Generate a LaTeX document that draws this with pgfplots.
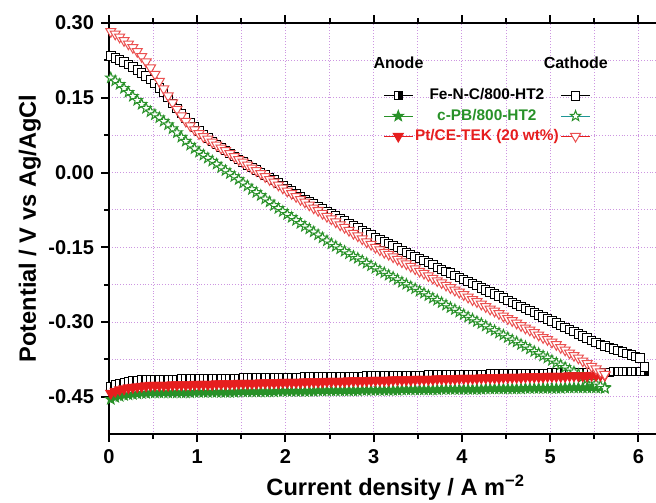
\documentclass[border=0pt]{standalone}
\usepackage{pgfplots}
\usepackage{pgfplotstable}
\usepackage{fontspec}
\setmainfont{Liberation Sans}
\pgfplotsset{compat=1.18}
\usetikzlibrary{plotmarks}

\definecolor{gridc}{RGB}{205,150,225}
\definecolor{pbgreen}{RGB}{40,145,40}
\definecolor{pbteal}{RGB}{30,150,150}
\definecolor{ptred}{RGB}{230,30,30}
\definecolor{ptlight}{RGB}{235,80,80}

% five-pointed star mark
\pgfdeclareplotmark{pstar}{%
  \pgfpathmoveto{\pgfpointpolar{90}{1.1\pgfplotmarksize}}%
  \pgfpathlineto{\pgfpointpolar{126}{0.45\pgfplotmarksize}}%
  \pgfpathlineto{\pgfpointpolar{162}{1.1\pgfplotmarksize}}%
  \pgfpathlineto{\pgfpointpolar{198}{0.45\pgfplotmarksize}}%
  \pgfpathlineto{\pgfpointpolar{234}{1.1\pgfplotmarksize}}%
  \pgfpathlineto{\pgfpointpolar{270}{0.45\pgfplotmarksize}}%
  \pgfpathlineto{\pgfpointpolar{306}{1.1\pgfplotmarksize}}%
  \pgfpathlineto{\pgfpointpolar{342}{0.45\pgfplotmarksize}}%
  \pgfpathlineto{\pgfpointpolar{18}{1.1\pgfplotmarksize}}%
  \pgfpathlineto{\pgfpointpolar{54}{0.45\pgfplotmarksize}}%
  \pgfpathclose
  \pgfusepathqfillstroke}
% square, right half filled black
\pgfdeclareplotmark{hsq}{%
  \pgfpathrectangle{\pgfpoint{-\pgfplotmarksize}{-\pgfplotmarksize}}{\pgfpoint{2\pgfplotmarksize}{2\pgfplotmarksize}}%
  \pgfusepathqfillstroke
  \begin{pgfscope}
  \pgfsetfillcolor{black}%
  \pgfpathrectangle{\pgfpoint{0pt}{-\pgfplotmarksize}}{\pgfpoint{\pgfplotmarksize}{2\pgfplotmarksize}}%
  \pgfusepathqfillstroke
  \end{pgfscope}}

% polarisation curves: anode (A) and cathode (C)
\pgfplotstableread{
x    feA    feC    pbA    pbC    ptA    ptC
0.02 -0.430 0.234 -0.455 0.190 -0.443 0.283
0.07 -0.426 0.230 -0.451 0.184 -0.439 0.278
0.12 -0.423 0.226 -0.449 0.177 -0.436 0.272
0.17 -0.421 0.222 -0.447 0.169 -0.434 0.265
0.22 -0.419 0.217 -0.446 0.161 -0.432 0.258
0.27 -0.418 0.212 -0.445 0.153 -0.431 0.251
0.32 -0.417 0.206 -0.444 0.145 -0.430 0.243
0.37 -0.416 0.200 -0.443 0.137 -0.429 0.233
0.42 -0.416 0.194 -0.443 0.129 -0.428 0.222
0.47 -0.415 0.187 -0.442 0.122 -0.427 0.210
0.52 -0.415 0.179 -0.442 0.116 -0.427 0.197
0.57 -0.415 0.170 -0.442 0.110 -0.427 0.183
0.62 -0.415 0.160 -0.442 0.103 -0.427 0.168
0.67 -0.415 0.150 -0.442 0.096 -0.427 0.154
0.72 -0.415 0.139 -0.442 0.088 -0.426 0.140
0.77 -0.415 0.128 -0.442 0.080 -0.426 0.127
0.82 -0.414 0.118 -0.442 0.071 -0.426 0.114
0.87 -0.414 0.109 -0.442 0.063 -0.426 0.103
0.92 -0.414 0.100 -0.442 0.055 -0.426 0.094
0.97 -0.414 0.091 -0.441 0.048 -0.425 0.086
1.02 -0.414 0.083 -0.441 0.041 -0.425 0.078
1.07 -0.414 0.076 -0.441 0.035 -0.425 0.072
1.12 -0.414 0.069 -0.441 0.029 -0.425 0.067
1.17 -0.413 0.062 -0.441 0.023 -0.425 0.061
1.22 -0.413 0.056 -0.441 0.017 -0.424 0.055
1.27 -0.413 0.050 -0.441 0.010 -0.424 0.049
1.32 -0.413 0.044 -0.441 0.004 -0.424 0.044
1.37 -0.413 0.038 -0.441 -0.002 -0.424 0.038
1.42 -0.413 0.032 -0.441 -0.008 -0.424 0.032
1.47 -0.413 0.026 -0.440 -0.014 -0.423 0.026
1.52 -0.412 0.021 -0.440 -0.021 -0.423 0.021
1.57 -0.412 0.015 -0.440 -0.027 -0.423 0.015
1.62 -0.412 0.010 -0.440 -0.034 -0.423 0.009
1.67 -0.412 0.005 -0.440 -0.040 -0.423 0.004
1.72 -0.412 0.000 -0.440 -0.046 -0.422 -0.002
1.77 -0.412 -0.005 -0.440 -0.053 -0.422 -0.008
1.82 -0.412 -0.010 -0.440 -0.059 -0.422 -0.014
1.87 -0.411 -0.015 -0.440 -0.066 -0.422 -0.019
1.92 -0.411 -0.021 -0.439 -0.072 -0.422 -0.025
1.97 -0.411 -0.026 -0.439 -0.078 -0.421 -0.031
2.02 -0.411 -0.032 -0.439 -0.084 -0.421 -0.037
2.07 -0.411 -0.037 -0.439 -0.090 -0.421 -0.042
2.12 -0.411 -0.043 -0.439 -0.096 -0.421 -0.048
2.17 -0.411 -0.048 -0.439 -0.102 -0.421 -0.054
2.22 -0.410 -0.054 -0.439 -0.108 -0.420 -0.059
2.27 -0.410 -0.059 -0.439 -0.113 -0.420 -0.065
2.32 -0.410 -0.063 -0.439 -0.119 -0.420 -0.071
2.37 -0.410 -0.068 -0.438 -0.125 -0.420 -0.076
2.42 -0.410 -0.073 -0.438 -0.131 -0.420 -0.082
2.47 -0.410 -0.078 -0.438 -0.137 -0.419 -0.088
2.52 -0.410 -0.083 -0.438 -0.143 -0.419 -0.093
2.57 -0.409 -0.087 -0.438 -0.148 -0.419 -0.099
2.62 -0.409 -0.092 -0.438 -0.153 -0.419 -0.105
2.67 -0.409 -0.097 -0.438 -0.158 -0.419 -0.110
2.72 -0.409 -0.102 -0.438 -0.163 -0.418 -0.116
2.77 -0.409 -0.106 -0.438 -0.168 -0.418 -0.122
2.82 -0.409 -0.111 -0.438 -0.172 -0.418 -0.127
2.87 -0.409 -0.116 -0.437 -0.177 -0.418 -0.133
2.92 -0.408 -0.121 -0.437 -0.182 -0.418 -0.139
2.97 -0.408 -0.125 -0.437 -0.187 -0.417 -0.144
3.02 -0.408 -0.130 -0.437 -0.192 -0.417 -0.150
3.07 -0.408 -0.134 -0.437 -0.197 -0.417 -0.155
3.12 -0.408 -0.139 -0.437 -0.201 -0.417 -0.160
3.17 -0.408 -0.143 -0.437 -0.206 -0.417 -0.164
3.22 -0.408 -0.147 -0.437 -0.210 -0.416 -0.169
3.27 -0.407 -0.151 -0.437 -0.215 -0.416 -0.174
3.32 -0.407 -0.156 -0.436 -0.220 -0.416 -0.179
3.37 -0.407 -0.160 -0.436 -0.224 -0.416 -0.183
3.42 -0.407 -0.164 -0.436 -0.229 -0.416 -0.188
3.47 -0.407 -0.168 -0.436 -0.233 -0.415 -0.193
3.52 -0.407 -0.173 -0.436 -0.238 -0.415 -0.198
3.57 -0.407 -0.177 -0.436 -0.242 -0.415 -0.202
3.62 -0.406 -0.181 -0.436 -0.247 -0.415 -0.207
3.67 -0.406 -0.185 -0.436 -0.252 -0.415 -0.212
3.72 -0.406 -0.190 -0.436 -0.256 -0.414 -0.217
3.77 -0.406 -0.194 -0.435 -0.261 -0.414 -0.221
3.82 -0.406 -0.198 -0.435 -0.266 -0.414 -0.226
3.87 -0.406 -0.202 -0.435 -0.271 -0.414 -0.231
3.92 -0.406 -0.207 -0.435 -0.275 -0.414 -0.236
3.97 -0.405 -0.211 -0.435 -0.280 -0.413 -0.240
4.02 -0.405 -0.215 -0.435 -0.285 -0.413 -0.245
4.07 -0.405 -0.219 -0.435 -0.290 -0.413 -0.250
4.12 -0.405 -0.223 -0.435 -0.294 -0.413 -0.255
4.17 -0.405 -0.227 -0.435 -0.299 -0.413 -0.259
4.22 -0.405 -0.232 -0.435 -0.303 -0.412 -0.264
4.27 -0.405 -0.236 -0.434 -0.308 -0.412 -0.269
4.32 -0.404 -0.240 -0.434 -0.313 -0.412 -0.274
4.37 -0.404 -0.244 -0.434 -0.317 -0.412 -0.278
4.42 -0.404 -0.248 -0.434 -0.322 -0.412 -0.283
4.47 -0.404 -0.252 -0.434 -0.326 -0.411 -0.288
4.52 -0.404 -0.257 -0.434 -0.331 -0.411 -0.293
4.57 -0.404 -0.261 -0.434 -0.336 -0.411 -0.297
4.62 -0.404 -0.265 -0.434 -0.340 -0.411 -0.302
4.67 -0.403 -0.269 -0.434 -0.345 -0.411 -0.307
4.72 -0.403 -0.273 -0.433 -0.349 -0.410 -0.312
4.77 -0.403 -0.277 -0.433 -0.354 -0.410 -0.316
4.82 -0.403 -0.281 -0.433 -0.359 -0.410 -0.321
4.87 -0.403 -0.286 -0.433 -0.363 -0.410 -0.326
4.92 -0.403 -0.290 -0.433 -0.368 -0.410 -0.331
4.97 -0.403 -0.294 -0.433 -0.372 -0.409 -0.335
5.02 -0.402 -0.298 -0.433 -0.377 -0.409 -0.340
5.07 -0.402 -0.302 -0.433 -0.382 -0.409 -0.345
5.12 -0.402 -0.307 -0.433 -0.386 -0.409 -0.351
5.17 -0.402 -0.311 -0.432 -0.391 -0.409 -0.356
5.22 -0.402 -0.315 -0.432 -0.396 -0.408 -0.362
5.27 -0.402 -0.319 -0.432 -0.400 -0.408 -0.367
5.32 -0.402 -0.324 -0.432 -0.405 -0.408 -0.372
5.37 -0.401 -0.328 -0.432 -0.410 -0.408 -0.378
5.42 -0.401 -0.332 -0.432 -0.414 -0.408 -0.383
5.47 -0.401 -0.337 -0.432 -0.419 -0.407 -0.389
5.52 -0.401 -0.341 -0.432 -0.424 -0.407 -0.394
5.57 -0.401 -0.345 -0.432 -0.428 -0.407 -0.400
5.62 -0.401 -0.348 -0.431 -0.433 -0.407 -0.405
5.67 -0.401 -0.351 nan nan nan nan
5.72 -0.400 -0.354 nan nan nan nan
5.77 -0.400 -0.357 nan nan nan nan
5.82 -0.400 -0.360 nan nan nan nan
5.87 -0.400 -0.363 nan nan nan nan
5.92 -0.400 -0.366 nan nan nan nan
5.97 -0.400 -0.369 nan nan nan nan
6.02 -0.400 -0.372 nan nan nan nan
6.07 -0.399 -0.390 nan nan nan nan
}\pol

\begin{document}
\begin{tikzpicture}
\begin{axis}[
    scale only axis,
    width=286.6pt, height=205.5pt,
    xmin=0, xmax=6.5, ymin=-0.525, ymax=0.30,
    axis x line*=box, axis y line*=left,
    xtick={0,1,2,3,4,5,6},
    ytick={-0.45,-0.3,-0.15,0,0.15,0.3},
    minor x tick num=1, minor y tick num=1,
    tick align=outside,
    major tick length=4pt, minor tick length=2.5pt,
    every tick/.style={black, line width=1pt},
    axis line style={line width=1.3pt},
    grid=both,
    grid style={gridc, densely dotted, line width=0.5pt},
    /pgf/number format/assume math mode=true,
    yticklabel style={/pgf/number format/.cd, fixed, fixed zerofill, precision=2},
    ticklabel style={font=\bfseries\fontsize{10}{12}\selectfont},
    xlabel={Current density / A m\textsuperscript{−2}},
    ylabel={Potential / V vs Ag/AgCl},
    label style={font=\bfseries\fontsize{11.8}{14}\selectfont},
    xlabel style={at={(axis description cs:0.5,-0.131)}, anchor=center},
    ylabel style={at={(axis description cs:-0.138,0.5)}, anchor=center},
    legend columns=2,
    legend cell align=center,
    legend image code/.code={\draw[mark repeat=2,mark phase=2] plot coordinates {(0cm,0cm) (0.25cm,0cm) (0.5cm,0cm)};},
    legend style={at={(axis description cs:0.478,0.7737)}, anchor=west,
        draw=none, fill=none, inner sep=0pt,
        font=\bfseries\fontsize{7.7}{9}\selectfont,
        row sep=1pt, column sep=0pt, nodes={inner sep=1pt}},
]
\addplot[black, line width=0.5pt, mark=hsq, mark size=2pt,
    mark options={fill=white, draw=black}] table[x=x, y=feA] {\pol};
\addlegendentry[text=black]{Fe-N-C/800-HT2}
\addplot[black, line width=0.5pt, mark=square*, mark size=2.1pt,
    mark options={fill=white, draw=black}] table[x=x, y=feC] {\pol};
\addlegendentry{}
\addplot[pbgreen, line width=0.5pt, mark=pstar, mark size=2.5pt,
    mark options={fill=pbgreen, draw=pbgreen}] table[x=x, y=pbA] {\pol};
\addlegendentry[text=pbgreen]{c-PB/800-HT2}
\addplot[pbteal, line width=0.5pt, mark=pstar, mark size=2.5pt,
    mark options={fill=white, draw=pbgreen}] table[x=x, y=pbC] {\pol};
\addlegendentry{}
\addplot[ptred, line width=0.5pt, mark=triangle*, mark size=2.9pt,
    mark options={rotate=180, fill=ptred, draw=ptred}] table[x=x, y=ptA] {\pol};
\addlegendentry[text=ptred]{Pt/CE-TEK (20 wt\%)}
\addplot[ptred, line width=0.5pt, mark=triangle*, mark size=2.9pt,
    mark options={rotate=180, fill=white, draw=ptlight}] table[x=x, y=ptC] {\pol};
\addlegendentry{}
\node[anchor=west, inner sep=0pt, font=\bfseries\fontsize{8}{9}\selectfont] at (axis description cs:0.4607,0.9027) {Anode};
\node[anchor=west, inner sep=0pt, font=\bfseries\fontsize{8}{9}\selectfont] at (axis description cs:0.7574,0.9027) {Cathode};
\coordinate (bbsw) at (rel axis cs:0,0);
\coordinate (bbne) at (axis cs:6.2,0.30);
\end{axis}
\pgfresetboundingbox
\path ([shift={(-54.5pt,-34pt)}]bbsw) rectangle ([shift={(0pt,11.5pt)}]bbne);
\end{tikzpicture}
\end{document}
